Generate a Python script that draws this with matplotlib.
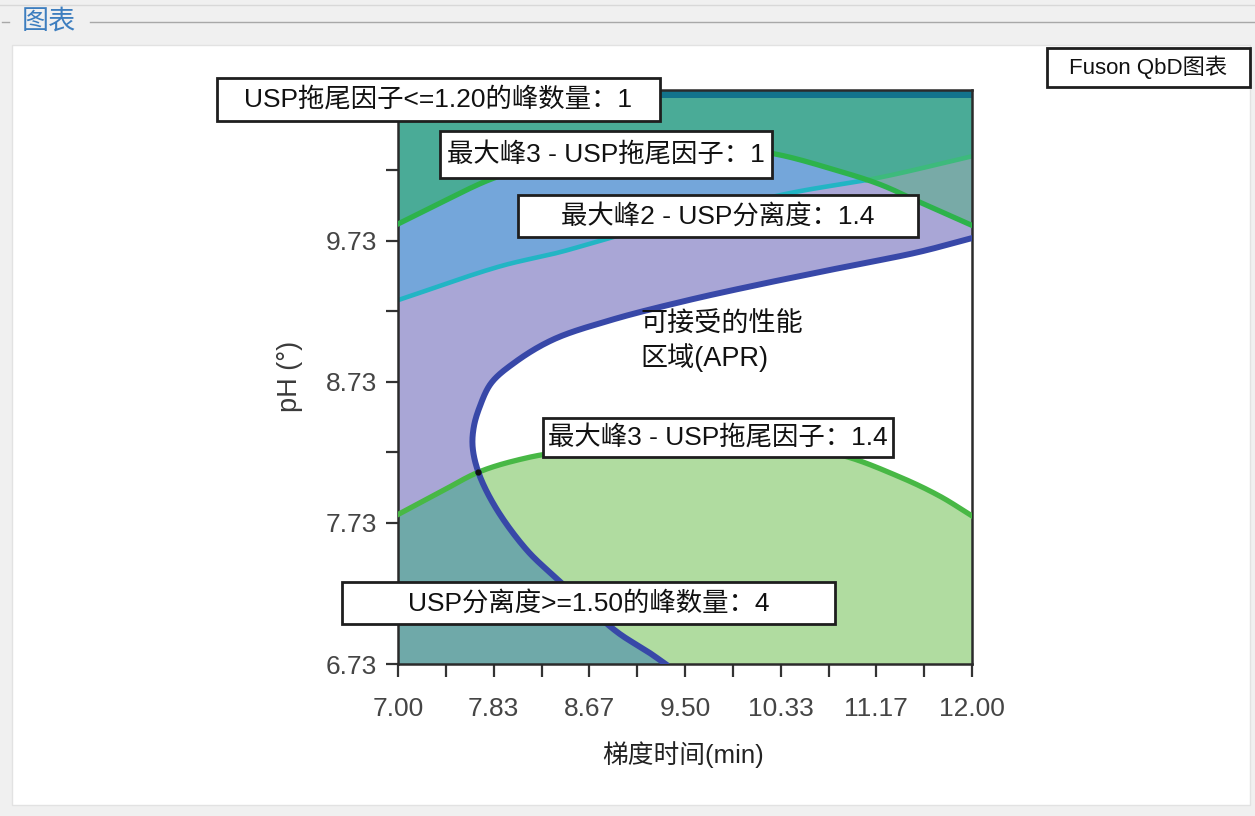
import numpy as np
import matplotlib
matplotlib.use("Agg")
import matplotlib.pyplot as plt
from matplotlib.path import Path
from matplotlib.patches import Rectangle
from matplotlib.lines import Line2D
from matplotlib.colors import ListedColormap

FONT = ['Liberation Sans', 'Noto Sans CJK SC', 'DejaVu Sans']
plt.rcParams['font.family'] = FONT

# ---- design space -------------------------------------------------------
x_min, x_max = 7.00, 12.00
ph_min, ph_max = 6.73, 10.80
band_ph = 10.75          # lower edge of the "USP拖尾因子<=1.20" band

x_tick_labels = ['7.00', '7.83', '8.67', '9.50', '10.33', '11.17', '12.00']
y_tick_labels = ['6.73', '7.73', '8.73', '9.73']

# 最大峰3 - USP拖尾因子：1
tail1_x = [7.00, 7.37, 7.85, 8.41, 9.11, 9.63, 10.26, 10.82, 11.20, 11.53, 12.00]
tail1_ph = [9.85, 10.00, 10.18, 10.30, 10.39, 10.40, 10.35, 10.23, 10.13, 10.01, 9.84]

# 最大峰2 - USP分离度：1.4
res14_x = [7.00, 7.89, 8.41, 8.93, 10.36, 11.20, 12.00]
res14_ph = [9.31, 9.55, 9.65, 9.77, 10.06, 10.18, 10.33]

# 最大峰3 - USP拖尾因子：1.4
tail14_x = [7.00, 7.37, 7.70, 8.06, 8.41, 9.54, 10.50, 10.86, 11.36, 11.72, 12.00]
tail14_ph = [7.79, 7.95, 8.09, 8.18, 8.23, 8.26, 8.24, 8.21, 8.06, 7.92, 7.78]

# 可接受的性能区域 (APR) boundary
apr_x = [12.00, 11.53, 10.86, 10.20, 9.53, 8.86, 8.35, 8.02, 7.81, 7.71, 7.66,
         7.65, 7.70, 7.85, 8.12, 8.39, 8.66, 8.92, 9.19, 9.33]
apr_ph = [9.75, 9.65, 9.54, 9.43, 9.31, 9.17, 9.03, 8.87, 8.72, 8.55, 8.41,
          8.27, 8.09, 7.84, 7.54, 7.33, 7.13, 6.95, 6.81, 6.73]

# region colours
region_colors = ['#ffffff',  # APR
                 '#a9a6d6',  # outside APR
                 '#74a6da',  # above resolution 1.4
                 '#4aab97',  # above resolution + tailing 1
                 '#78aaa7',  # above tailing 1 only
                 '#b0dca0',  # below tailing 1.4 inside APR
                 '#6fa9a9',  # below tailing 1.4 outside APR
                 '#12738c']  # count band


def catmull_rom(xp, yp, n=24):
    """Centripetal Catmull-Rom curve through the given points."""
    P = np.column_stack([xp, yp]).astype(float)
    P = np.vstack([2 * P[0] - P[1], P, 2 * P[-1] - P[-2]])
    out = []
    for i in range(len(P) - 3):
        p0, p1, p2, p3 = P[i:i + 4]
        t0 = 0.0
        t1 = t0 + np.linalg.norm(p1 - p0) ** 0.5
        t2 = t1 + np.linalg.norm(p2 - p1) ** 0.5
        t3 = t2 + np.linalg.norm(p3 - p2) ** 0.5
        t = np.linspace(t1, t2, n, endpoint=False)[:, None]
        a1 = (t1 - t) / (t1 - t0) * p0 + (t - t0) / (t1 - t0) * p1
        a2 = (t2 - t) / (t2 - t1) * p1 + (t - t1) / (t2 - t1) * p2
        a3 = (t3 - t) / (t3 - t2) * p2 + (t - t2) / (t3 - t2) * p3
        b1 = (t2 - t) / (t2 - t0) * a1 + (t - t0) / (t2 - t0) * a2
        b2 = (t3 - t) / (t3 - t1) * a2 + (t - t1) / (t3 - t1) * a3
        out.append((t2 - t) / (t2 - t1) * b1 + (t - t1) / (t2 - t1) * b2)
    out.append(P[-2][None, :])
    c = np.vstack(out)
    return c[:, 0], c[:, 1]


def as_function(xp, yp):
    sx, sy = catmull_rom(xp, yp)
    sx = np.maximum.accumulate(sx)
    return sx, sy


t1_sx, t1_sy = as_function(tail1_x, tail1_ph)
r_sx, r_sy = as_function(res14_x, res14_ph)
t14_sx, t14_sy = as_function(tail14_x, tail14_ph)
apr_sx, apr_sy = catmull_rom(apr_x, apr_ph)

W, H = 1255, 816
fig = plt.figure(figsize=(W / 100, H / 100), dpi=100)
fig.patch.set_facecolor('#f0f0f0')


def fx(px):
    return px / W


def fy(py):
    return 1 - py / H


# window frame
fig.patches.append(Rectangle((fx(12), fy(805)), fx(1250) - fx(12), fy(45) - fy(805),
                             transform=fig.transFigure, facecolor='white',
                             edgecolor='#e2e2e2', lw=1, zorder=-5))
fig.lines.append(Line2D([fx(0), fx(W)], [fy(5), fy(5)], transform=fig.transFigure,
                        color='#d8d8d8', lw=1))
fig.lines.append(Line2D([fx(90), fx(W)], [fy(22), fy(22)], transform=fig.transFigure,
                        color='#a8a8a8', lw=1))
fig.lines.append(Line2D([fx(2), fx(9)], [fy(22), fy(22)], transform=fig.transFigure,
                        color='#a8a8a8', lw=1))
fig.text(fx(22), fy(22), '图表', color='#3d7ebf', fontsize=19.5,
         va='center', ha='left', family=FONT)

ax = fig.add_axes([fx(398), fy(664), fx(972) - fx(398), fy(90) - fy(664)])
ax.set_xlim(x_min, x_max)
ax.set_ylim(ph_min, ph_max)

# ---- region map -----------------------------------------------------------
nx, ny = 1150, 820
gx = np.linspace(x_min, x_max, nx)
gy = np.linspace(ph_min, ph_max, ny)
X, Y = np.meshgrid(gx, gy)

above_t1 = Y > np.interp(X, t1_sx, t1_sy)
above_r = Y > np.interp(X, r_sx, r_sy)
below_t14 = Y < np.interp(X, t14_sx, t14_sy)

apr_poly = np.column_stack([np.r_[apr_sx, x_max + 1, x_max + 1],
                            np.r_[apr_sy, ph_min - 1, apr_sy[0]]])
inside = Path(apr_poly).contains_points(
    np.column_stack([X.ravel(), Y.ravel()])).reshape(X.shape)
outside = ~inside

code = np.where(outside, 1, 0)
code[above_r] = 2
code[above_t1 & above_r] = 3
code[above_t1 & ~above_r & outside] = 4
code[below_t14 & inside] = 5
code[below_t14 & outside] = 6
code[Y >= band_ph] = 7

ax.imshow(code, extent=[x_min, x_max, ph_min, ph_max], origin='lower',
          aspect='auto', interpolation='nearest',
          cmap=ListedColormap(region_colors), vmin=-0.5, vmax=7.5, zorder=0)

# ---- contour lines --------------------------------------------------------
xs = np.linspace(x_min, x_max, 800)
r_line = np.interp(xs, r_sx, r_sy)
t_line = np.interp(xs, t1_sx, t1_sy)
low = np.where(r_line <= t_line + 0.01, r_line, np.nan)
high = np.where(r_line >= t_line - 0.01, r_line, np.nan)
ax.plot(xs, low, color='#22b5c4', lw=3.3, solid_capstyle='butt', zorder=2)
ax.plot(xs, high, color='#3dba7c', lw=3.3, solid_capstyle='butt', zorder=2)
ax.plot(t1_sx, t1_sy, color='#2db34b', lw=3.8, zorder=3)
ax.plot(t14_sx, t14_sy, color='#48b845', lw=3.8, zorder=3)
ax.plot(apr_sx, apr_sy, color='#3848a8', lw=4.3, zorder=4)
ax.plot([tail14_x[2]], [tail14_ph[2]], 'o', color='#111111', ms=3.5, zorder=5)

# ---- axes styling ---------------------------------------------------------
ax.set_xticks(np.linspace(x_min, x_max, 13))
ax.set_xticklabels([x_tick_labels[k // 2] if k % 2 == 0 else '' for k in range(13)])
ax.set_yticks(np.linspace(6.73, 10.73, 9))
ax.set_yticklabels([y_tick_labels[k // 2] if k % 2 == 0 and k // 2 < len(y_tick_labels)
                    else '' for k in range(9)])
ax.tick_params(axis='x', direction='out', length=9, width=1.6, color='#333333',
               pad=15, labelsize=19, labelcolor='#454545')
ax.tick_params(axis='y', direction='out', length=9, width=1.6, color='#333333',
               pad=6, labelsize=19, labelcolor='#454545')
for side in ['left', 'bottom', 'top', 'right']:
    ax.spines[side].set_color('#2b2b2b')
    ax.spines[side].set_linewidth(1.8)

fig.text(fx(290), fy(376), 'pH (°)', rotation=90, fontsize=19.5, color='#3a3a3a',
         ha='center', va='center', family=FONT)
fig.text(fx(683), fy(755), '梯度时间(min)', fontsize=18.5, color='#222222',
         ha='center', va='center', family=FONT)

# ---- labelled boxes -------------------------------------------------------
boxes = [
    ((217, 78, 660, 121), 'USP拖尾因子<=1.20的峰数量：1', 19),
    ((440, 131, 772, 178), '最大峰3 - USP拖尾因子：1', 19),
    ((518, 195, 918, 237), '最大峰2 - USP分离度：1.4', 19),
    ((543, 418, 893, 457), '最大峰3 - USP拖尾因子：1.4', 19),
    ((342, 582, 835, 624), 'USP分离度>=1.50的峰数量：4', 19),
    ((1047, 48, 1250, 87), 'Fuson QbD图表', 16),
]
for (x0, y0, x1, y1), label, size in boxes:
    fig.patches.append(Rectangle((fx(x0), fy(y1)), fx(x1) - fx(x0), fy(y0) - fy(y1),
                                 transform=fig.transFigure, facecolor='white',
                                 edgecolor='#1e1e1e', lw=2.0, zorder=5))
    fig.text(fx((x0 + x1) / 2), fy((y0 + y1) / 2), label, fontsize=size,
             color='#111111', ha='center', va='center', zorder=6, family=FONT)

fig.text(fx(640), fy(342), '可接受的性能\n区域(APR)', fontsize=19.5, color='#111111',
         ha='left', va='center', linespacing=1.2, zorder=6, family=FONT)

fig.savefig('out.png', dpi=100, facecolor=fig.get_facecolor())
